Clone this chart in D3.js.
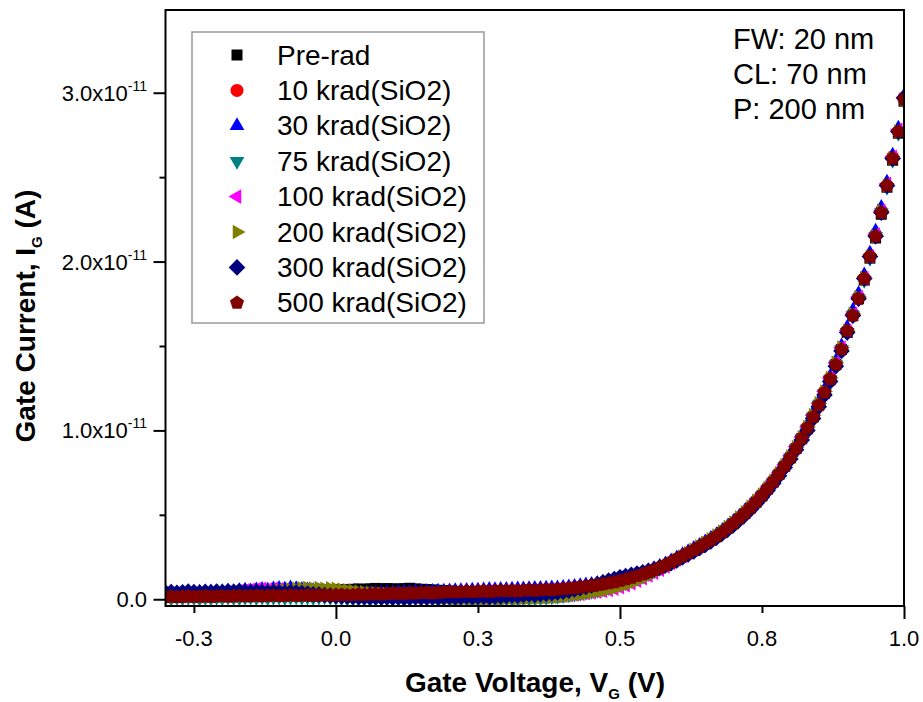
<!DOCTYPE html>
<html>
<head>
<meta charset="utf-8">
<script src="https://cdn.jsdelivr.net/npm/d3@7/dist/d3.min.js"></script>
<style>
	body { margin: 0; background: #fff; }
	svg { display: block; }
	text { font-family: "Liberation Sans", Arial, sans-serif; fill: #000; }
</style>
</head>
<body>
<div id="chart"></div>
<script>
// gate sweep, -0.30 V to 1.00 V in 10 mV steps
const gateVoltage = d3.range(131).map((i) => { return Math.round((-0.30 + i * 0.01) * 100) / 100; });

// gate current in pA (one row = 0.1 V)
const preRad = [
	0.20,0.22,0.19,0.21,0.24,0.22,0.25,0.23,0.26,0.24,
	0.27,0.25,0.28,0.30,0.27,0.31,0.33,0.30,0.34,0.36,
	0.40,0.43,0.46,0.44,0.48,0.51,0.49,0.53,0.55,0.52,
	0.56,0.58,0.55,0.59,0.61,0.58,0.62,0.64,0.61,0.63,
	0.62,0.60,0.63,0.65,0.61,0.59,0.57,0.55,0.53,0.51,
	0.49,0.47,0.45,0.46,0.44,0.45,0.47,0.46,0.48,0.49,
	0.47,0.49,0.51,0.50,0.53,0.55,0.54,0.57,0.59,0.58,
	0.60,0.63,0.66,0.70,0.74,0.78,0.83,0.88,0.94,1.00,
	1.08,1.16,1.25,1.35,1.46,1.58,1.71,1.85,2.00,2.17,
	2.35,2.53,2.71,2.89,3.08,3.28,3.49,3.71,3.95,4.21,
	4.48,4.77,5.08,5.41,5.76,6.13,6.53,6.95,7.40,7.88,
	8.38,8.93,9.51,10.1,10.8,11.5,12.2,13.0,13.9,14.8,
	15.8,16.8,17.8,18.9,20.2,21.4,22.8,24.4,26.0,27.6,
	29.5];
const krad10 = [
	0.15,0.13,0.16,0.14,0.17,0.15,0.13,0.16,0.18,0.15,
	0.17,0.19,0.16,0.18,0.20,0.17,0.19,0.21,0.18,0.20,
	0.22,0.19,0.21,0.23,0.20,0.22,0.24,0.21,0.23,0.25,
	0.22,0.24,0.27,0.25,0.27,0.30,0.28,0.30,0.33,0.31,
	0.33,0.35,0.32,0.35,0.37,0.35,0.38,0.40,0.37,0.40,
	0.42,0.40,0.43,0.45,0.42,0.45,0.47,0.44,0.47,0.49,
	0.48,0.50,0.49,0.51,0.53,0.52,0.54,0.56,0.56,0.59,
	0.62,0.65,0.69,0.72,0.76,0.80,0.85,0.90,0.96,1.02,
	1.10,1.18,1.27,1.37,1.48,1.60,1.73,1.87,2.02,2.19,
	2.38,2.56,2.74,2.92,3.11,3.31,3.51,3.73,3.97,4.23,
	4.50,4.79,5.10,5.43,5.78,6.15,6.55,6.97,7.42,7.90,
	8.42,8.96,9.55,10.2,10.8,11.5,12.3,13.1,13.9,14.8,
	15.9,16.9,17.9,19.0,20.3,21.6,23.0,24.5,26.2,27.7,
	29.7];
const krad30 = [
	0.35,0.38,0.33,0.36,0.40,0.37,0.41,0.39,0.43,0.40,
	0.44,0.48,0.45,0.50,0.53,0.49,0.55,0.58,0.54,0.60,
	0.63,0.59,0.66,0.62,0.58,0.55,0.51,0.48,0.45,0.42,
	0.40,0.38,0.36,0.35,0.33,0.34,0.36,0.35,0.37,0.39,
	0.38,0.40,0.42,0.41,0.43,0.45,0.44,0.46,0.48,0.47,
	0.49,0.51,0.50,0.52,0.54,0.53,0.55,0.57,0.56,0.58,
	0.57,0.59,0.61,0.60,0.62,0.64,0.63,0.65,0.67,0.66,
	0.69,0.72,0.76,0.80,0.84,0.88,0.93,0.98,1.04,1.10,
	1.17,1.25,1.34,1.44,1.55,1.67,1.80,1.94,2.09,2.26,
	2.45,2.63,2.81,3.00,3.19,3.39,3.60,3.82,4.06,4.32,
	4.60,4.90,5.22,5.55,5.90,6.28,6.68,7.10,7.56,8.04,
	8.55,9.10,9.69,10.3,11.0,11.7,12.4,13.2,14.1,15.0,
	16.1,17.1,18.1,19.2,20.5,21.8,23.2,24.7,26.3,27.9,
	29.8];
const krad75 = [
	0.10,0.08,0.11,0.09,0.12,0.10,0.08,0.11,0.09,0.12,
	0.10,0.13,0.11,0.09,0.12,0.14,0.11,0.13,0.10,0.12,
	0.14,0.11,0.13,0.15,0.12,0.14,0.11,0.13,0.15,0.12,
	0.10,0.08,0.06,0.05,0.03,0.04,0.02,0.03,0.05,0.04,
	0.02,0.03,0.01,0.02,0.04,0.03,0.01,0.02,0.00,0.01,
	0.02,-0.01,0.01,0.00,-0.02,0.00,0.01,-0.01,0.00,0.02,
	0.03,0.01,0.04,0.06,0.05,0.08,0.10,0.12,0.15,0.18,
	0.22,0.26,0.31,0.36,0.41,0.47,0.54,0.61,0.69,0.78,
	0.88,0.99,1.11,1.24,1.38,1.53,1.68,1.84,2.00,2.17,
	2.35,2.53,2.71,2.89,3.08,3.28,3.49,3.71,3.95,4.21,
	4.47,4.76,5.07,5.40,5.75,6.12,6.52,6.94,7.39,7.87,
	8.38,8.92,9.50,10.1,10.8,11.5,12.2,13.0,13.9,14.8,
	15.8,16.8,17.8,18.9,20.2,21.5,22.9,24.4,26.0,27.6,
	29.5];
const krad100 = [
	0.18,0.21,0.19,0.22,0.25,0.23,0.27,0.30,0.28,0.32,
	0.36,0.40,0.44,0.48,0.52,0.55,0.58,0.61,0.57,0.62,
	0.58,0.53,0.49,0.45,0.41,0.38,0.35,0.32,0.30,0.28,
	0.26,0.24,0.22,0.20,0.19,0.21,0.18,0.17,0.19,0.16,
	0.15,0.17,0.14,0.16,0.13,0.15,0.12,0.14,0.11,0.13,
	0.12,0.10,0.13,0.11,0.09,0.12,0.10,0.13,0.11,0.14,
	0.12,0.15,0.13,0.16,0.14,0.17,0.15,0.18,0.17,0.20,
	0.22,0.25,0.28,0.32,0.36,0.40,0.45,0.50,0.56,0.63,
	0.72,0.83,0.96,1.10,1.25,1.41,1.58,1.76,1.95,2.15,
	2.36,2.56,2.76,2.96,3.16,3.37,3.58,3.80,4.04,4.30,
	4.57,4.86,5.17,5.50,5.85,6.22,6.62,7.04,7.49,7.97,
	8.48,9.03,9.61,10.2,10.9,11.6,12.3,13.1,14.0,14.9,
	15.9,16.9,17.9,19.0,20.3,21.6,23.0,24.6,26.2,27.8,
	29.7];
const krad200 = [
	0.20,0.18,0.21,0.19,0.22,0.20,0.23,0.21,0.24,0.22,
	0.25,0.23,0.26,0.24,0.27,0.30,0.33,0.37,0.41,0.45,
	0.49,0.53,0.57,0.61,0.64,0.66,0.63,0.66,0.62,0.65,
	0.61,0.57,0.53,0.49,0.45,0.41,0.38,0.35,0.32,0.30,
	0.28,0.26,0.24,0.22,0.20,0.18,0.16,0.14,0.12,0.10,
	0.09,0.07,0.06,0.08,0.05,0.07,0.04,0.06,0.08,0.05,
	0.07,0.09,0.06,0.08,0.10,0.09,0.11,0.13,0.12,0.15,
	0.18,0.22,0.26,0.30,0.35,0.40,0.46,0.52,0.59,0.67,
	0.76,0.86,0.97,1.10,1.24,1.39,1.55,1.73,1.92,2.12,
	2.33,2.53,2.73,2.93,3.13,3.34,3.55,3.77,4.01,4.27,
	4.54,4.83,5.14,5.47,5.82,6.19,6.59,7.01,7.46,7.94,
	8.45,9.00,9.58,10.2,10.9,11.6,12.3,13.1,14.0,14.9,
	15.9,16.9,17.9,19.0,20.3,21.5,23.0,24.5,26.1,27.7,
	29.6];
const krad300 = [
	0.40,0.43,0.38,0.41,0.45,0.42,0.39,0.44,0.41,0.46,
	0.43,0.47,0.44,0.48,0.45,0.42,0.46,0.43,0.40,0.44,
	0.41,0.38,0.42,0.39,0.36,0.33,0.30,0.28,0.25,0.22,
	0.20,0.18,0.16,0.15,0.13,0.14,0.12,0.13,0.11,0.12,
	0.10,0.12,0.09,0.11,0.13,0.10,0.12,0.14,0.11,0.13,
	0.15,0.12,0.14,0.16,0.13,0.15,0.17,0.14,0.16,0.18,
	0.20,0.23,0.21,0.25,0.28,0.26,0.30,0.33,0.36,0.40,
	0.45,0.51,0.58,0.65,0.73,0.81,0.90,1.00,1.10,1.20,
	1.30,1.38,1.45,1.52,1.60,1.68,1.78,1.89,2.01,2.14,
	2.30,2.47,2.65,2.83,3.02,3.22,3.43,3.65,3.89,4.14,
	4.40,4.69,5.00,5.33,5.68,6.05,6.45,6.87,7.32,7.80,
	8.30,8.85,9.43,10.0,10.7,11.4,12.1,12.9,13.8,14.7,
	15.8,16.8,17.8,19.0,20.3,21.5,22.9,24.5,26.1,27.7,
	29.7];
const krad500 = [
	0.14,0.16,0.13,0.15,0.17,0.14,0.16,0.18,0.15,0.17,
	0.19,0.16,0.18,0.20,0.17,0.19,0.21,0.18,0.20,0.22,
	0.19,0.21,0.23,0.20,0.22,0.24,0.21,0.23,0.25,0.22,
	0.24,0.26,0.23,0.25,0.28,0.26,0.29,0.31,0.28,0.31,
	0.34,0.31,0.33,0.36,0.34,0.37,0.39,0.36,0.39,0.41,
	0.43,0.41,0.44,0.46,0.43,0.46,0.48,0.45,0.48,0.50,
	0.49,0.51,0.48,0.52,0.54,0.51,0.55,0.57,0.55,0.58,
	0.61,0.64,0.67,0.71,0.75,0.79,0.84,0.89,0.95,1.01,
	1.10,1.18,1.27,1.37,1.48,1.60,1.73,1.87,2.02,2.19,
	2.38,2.56,2.74,2.92,3.11,3.31,3.51,3.73,3.97,4.23,
	4.50,4.79,5.10,5.43,5.78,6.15,6.55,6.97,7.42,7.90,
	8.40,8.95,9.53,10.15,10.8,11.5,12.25,13.05,13.9,14.8,
	15.9,16.8,17.8,19.0,20.3,21.5,22.9,24.5,26.1,27.7,
	29.6];

const seriesNames = ["Pre-rad", "10 krad(SiO2)", "30 krad(SiO2)", "75 krad(SiO2)",
	"100 krad(SiO2)", "200 krad(SiO2)", "300 krad(SiO2)", "500 krad(SiO2)"];
const seriesCurrents = [preRad, krad10, krad30, krad75, krad100, krad200, krad300, krad500];
const seriesColors = ["#000000", "#ff0000", "#0000ff", "#008080", "#ff00ff", "#808000", "#000080", "#800000"];
const seriesShapes = ["square", "circle", "triangle-up", "triangle-down", "triangle-left", "triangle-right", "diamond", "pentagon"];

const xMajorTicks = [0, 0.5, 1.0];
const xMinorTicks = [-0.25, 0.25, 0.75];
const xTickValues = [-0.25, 0, 0.25, 0.5, 0.75, 1.0];
const xTickLabels = ["-0.3", "0.0", "0.3", "0.5", "0.8", "1.0"];
const yMajorTicks = [0, 10, 20, 30];
const yMinorTicks = [5, 15, 25];
const yTickMantissa = ["0.0", "1.0", "2.0", "3.0"];
const yTickExponent = "-11";
const deviceNotes = ["FW: 20 nm", "CL: 70 nm", "P: 200 nm"];

const w = 923, h = 702;
const plot = { left: 165.5, right: 904, top: 10, bottom: 606 };

let svg = d3.select("#chart").append("svg")
	.attr("width", w)
	.attr("height", h);

let x = d3.scaleLinear().domain([-0.3, 1.0]).range([plot.left, plot.right]);
let y = d3.scaleLinear().domain([-0.4, 34.9]).range([plot.bottom, plot.top]);

function polygon(n, r, startDeg) {
	let pts = d3.range(n).map((i) => {
		let a = (startDeg + i * 360 / n) * Math.PI / 180;
		return [r * Math.cos(a), r * Math.sin(a)];
	});
	return "M" + pts.map((p) => { return p[0].toFixed(2) + "," + p[1].toFixed(2); }).join("L") + "Z";
}

function markerPath(shape) {
	switch (shape) {
		case "square": return "M-5.5,-5.5h11v11h-11Z";
		case "circle": return d3.symbol(d3.symbolCircle, Math.PI * 6.5 * 6.5)();
		case "triangle-up": return polygon(3, 8.5, -90);
		case "triangle-down": return polygon(3, 8.5, 90);
		case "triangle-left": return polygon(3, 8.5, 180);
		case "triangle-right": return polygon(3, 8.5, 0);
		case "diamond": return polygon(4, 8.3, -90);
		case "pentagon": return polygon(5, 7.4, -90);
	}
}

svg.append("defs").append("clipPath")
	.attr("id", "plot-clip")
	.append("rect")
	.attr("x", plot.left)
	.attr("y", plot.top)
	.attr("width", plot.right - plot.left)
	.attr("height", plot.bottom - plot.top);

// data markers, pre-rad first so 500 krad ends up on top
let markers = svg.append("g").attr("clip-path", "url(#plot-clip)");

seriesCurrents.forEach((values, s) => {
	let pts = gateVoltage.map((v, i) => { return { v: v, i: values[i] }; });
	markers.append("g")
		.selectAll("path")
		.data(pts)
		.enter().append("path")
		.attr("d", markerPath(seriesShapes[s]))
		.attr("transform", (d) => { return "translate(" + x(d.v) + "," + y(d.i) + ")"; })
		.attr("fill", seriesColors[s]);
});

// axes
let xAxisMajor = svg.append("g")
	.attr("transform", "translate(0," + plot.bottom + ")")
	.call(d3.axisBottom(x).tickValues(xMajorTicks).tickSize(13).tickSizeOuter(0).tickFormat(""));
let xAxisMinor = svg.append("g")
	.attr("transform", "translate(0," + plot.bottom + ")")
	.call(d3.axisBottom(x).tickValues(xMinorTicks).tickSize(7).tickSizeOuter(0).tickFormat(""));
let yAxisMajor = svg.append("g")
	.attr("transform", "translate(" + plot.left + ",0)")
	.call(d3.axisLeft(y).tickValues(yMajorTicks).tickSize(12).tickSizeOuter(0).tickFormat(""));
let yAxisMinor = svg.append("g")
	.attr("transform", "translate(" + plot.left + ",0)")
	.call(d3.axisLeft(y).tickValues(yMinorTicks).tickSize(6).tickSizeOuter(0).tickFormat(""));

[xAxisMajor, xAxisMinor, yAxisMajor, yAxisMinor].forEach((a) => {
	a.select(".domain").remove();
	a.selectAll(".tick line").attr("stroke", "#000").attr("stroke-width", 2);
});

svg.append("rect")
	.attr("x", plot.left)
	.attr("y", plot.top)
	.attr("width", plot.right - plot.left)
	.attr("height", plot.bottom - plot.top)
	.attr("fill", "none")
	.attr("stroke", "#000")
	.attr("stroke-width", 2);

svg.append("g").selectAll("text")
	.data(xTickValues)
	.enter().append("text")
	.attr("x", (d) => { return x(d); })
	.attr("y", 646)
	.attr("text-anchor", "middle")
	.style("font-size", "22px")
	.text((d, i) => { return xTickLabels[i]; });

let yLabels = svg.append("g").selectAll("text")
	.data(yMajorTicks)
	.enter().append("text")
	.attr("x", 147)
	.attr("y", (d) => { return y(d) + 8; })
	.attr("text-anchor", "end")
	.style("font-size", "22px");

yLabels.each(function(d, i) {
	let t = d3.select(this);
	if (d === 0) {
		t.text(yTickMantissa[i]);
		return;
	}
	t.append("tspan").text(yTickMantissa[i] + "x10");
	t.append("tspan").attr("dy", -10).style("font-size", "14px").text(yTickExponent);
});

// axis titles
let xTitle = svg.append("text")
	.attr("x", 535)
	.attr("y", 692)
	.attr("text-anchor", "middle")
	.style("font-size", "28px")
	.style("font-weight", "bold");
xTitle.append("tspan").text("Gate Voltage, V");
xTitle.append("tspan").attr("dy", 7).style("font-size", "15px").text("G");
xTitle.append("tspan").attr("dy", -7).text(" (V)");

let yTitle = svg.append("text")
	.attr("transform", "translate(35,316)rotate(-90)")
	.attr("text-anchor", "middle")
	.style("font-size", "28px")
	.style("font-weight", "bold");
yTitle.append("tspan").text("Gate Current, I");
yTitle.append("tspan").attr("dy", 7).style("font-size", "15px").text("G");
yTitle.append("tspan").attr("dy", -7).text(" (A)");

// legend
let legend = svg.append("g");
legend.append("rect")
	.attr("x", 192)
	.attr("y", 32)
	.attr("width", 292)
	.attr("height", 291)
	.attr("fill", "#fff")
	.attr("stroke", "#999")
	.attr("stroke-width", 1.5);

let rows = legend.selectAll(".row")
	.data(seriesNames)
	.enter().append("g")
	.attr("class", "row")
	.attr("transform", (d, i) => { return "translate(0," + (55 + i * 35.4) + ")"; });

rows.append("path")
	.attr("d", (d, i) => { return markerPath(seriesShapes[i]); })
	.attr("transform", "translate(237,0)")
	.attr("fill", (d, i) => { return seriesColors[i]; });

rows.append("text")
	.attr("x", 277)
	.attr("y", 9.5)
	.style("font-size", "28px")
	.text((d) => { return d; });

// device geometry note
svg.append("g").selectAll("text")
	.data(deviceNotes)
	.enter().append("text")
	.attr("x", 733)
	.attr("y", (d, i) => { return 49 + i * 35; })
	.style("font-size", "29px")
	.text((d) => { return d; });
</script>
</body>
</html>
